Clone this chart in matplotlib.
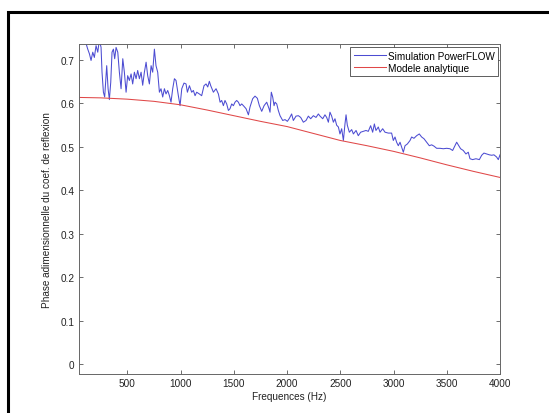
import matplotlib
matplotlib.use("Agg")
import matplotlib.pyplot as plt
from matplotlib.patches import Rectangle

plt.rcParams['font.family'] = ['Liberation Sans', 'DejaVu Sans']

# Simulation PowerFLOW (blue)
sim_freq = [50, 70, 90, 112, 128, 144, 159, 175, 190, 206, 222, 237, 253, 262, 275, 287, 294, 306, 319, 331,
            344, 356, 369, 381, 394, 410, 425, 441, 457, 472, 488, 503, 519, 535, 550, 566, 582, 597, 613, 629,
            644, 660, 676, 691, 707, 723, 738, 754, 769, 785, 801, 816, 832, 848, 863, 879, 895, 910, 926, 942,
            957, 979, 995, 1011, 1032, 1051, 1064, 1083, 1104, 1120, 1136, 1151, 1176, 1198, 1220, 1239, 1255,
            1270, 1283, 1308, 1333, 1355, 1371, 1386, 1402, 1417, 1433, 1449, 1464, 1480, 1496, 1511, 1527,
            1543, 1558, 1574, 1590, 1615, 1637, 1652, 1677, 1699, 1721, 1740, 1762, 1784, 1809, 1831, 1840,
            1852, 1865, 1878, 1887, 1903, 1918, 1934, 1959, 1981, 2003, 2022, 2043, 2059, 2084, 2106, 2128,
            2153, 2178, 2200, 2222, 2247, 2272, 2294, 2310, 2335, 2356, 2372, 2388, 2403, 2419, 2435, 2450,
            2466, 2482, 2497, 2513, 2529, 2544, 2554, 2566, 2585, 2607, 2623, 2648, 2669, 2691, 2716, 2741,
            2763, 2785, 2804, 2820, 2835, 2857, 2873, 2898, 2920, 2951, 2982, 2998, 3014, 3029, 3045, 3061,
            3076, 3092, 3108, 3130, 3155, 3170, 3192, 3217, 3242, 3264, 3286, 3311, 3336, 3358, 3380, 3405,
            3436, 3468, 3499, 3530, 3555, 3577, 3593, 3608, 3630, 3655, 3680, 3702, 3718, 3743, 3774, 3806,
            3828, 3849, 3875, 3900, 3922, 3943, 3968, 3984, 4000]
sim_val = [0.750, 0.742, 0.745, 0.737, 0.724, 0.713, 0.698, 0.717, 0.705, 0.732, 0.717, 0.745, 0.728, 0.671,
           0.625, 0.614, 0.640, 0.686, 0.633, 0.608, 0.648, 0.717, 0.724, 0.702, 0.728, 0.717, 0.671, 0.633,
           0.702, 0.671, 0.625, 0.663, 0.652, 0.667, 0.644, 0.671, 0.656, 0.675, 0.656, 0.671, 0.641, 0.671,
           0.694, 0.663, 0.644, 0.686, 0.671, 0.724, 0.686, 0.671, 0.625, 0.633, 0.614, 0.633, 0.621, 0.629,
           0.617, 0.602, 0.633, 0.656, 0.652, 0.617, 0.594, 0.633, 0.646, 0.644, 0.625, 0.640, 0.625, 0.629,
           0.617, 0.625, 0.621, 0.617, 0.640, 0.644, 0.637, 0.650, 0.640, 0.625, 0.633, 0.621, 0.602, 0.606,
           0.594, 0.606, 0.598, 0.583, 0.587, 0.598, 0.594, 0.602, 0.606, 0.602, 0.594, 0.598, 0.594, 0.587,
           0.573, 0.591, 0.610, 0.616, 0.611, 0.594, 0.581, 0.594, 0.602, 0.587, 0.579, 0.625, 0.614, 0.594,
           0.602, 0.598, 0.583, 0.571, 0.560, 0.562, 0.558, 0.565, 0.575, 0.560, 0.570, 0.571, 0.567, 0.556,
           0.560, 0.570, 0.564, 0.571, 0.567, 0.575, 0.570, 0.564, 0.573, 0.567, 0.556, 0.579, 0.570, 0.556,
           0.564, 0.549, 0.545, 0.529, 0.541, 0.514, 0.552, 0.573, 0.549, 0.533, 0.539, 0.529, 0.537, 0.525,
           0.533, 0.535, 0.537, 0.535, 0.548, 0.533, 0.552, 0.537, 0.545, 0.533, 0.541, 0.533, 0.531, 0.531,
           0.514, 0.522, 0.510, 0.502, 0.510, 0.499, 0.487, 0.502, 0.506, 0.514, 0.522, 0.519, 0.525, 0.529,
           0.522, 0.518, 0.510, 0.502, 0.504, 0.501, 0.496, 0.496, 0.495, 0.496, 0.495, 0.491, 0.502, 0.510,
           0.504, 0.495, 0.491, 0.483, 0.487, 0.472, 0.470, 0.472, 0.470, 0.480, 0.485, 0.483, 0.481, 0.480,
           0.481, 0.476, 0.470, 0.481]

# Modele analytique (red)
mod_freq = [43, 250, 500, 750, 1000, 1250, 1500, 1750, 2000, 2250, 2500, 2750, 3000, 3250, 3500, 3750, 4000]
mod_val = [0.613, 0.612, 0.609, 0.604, 0.596, 0.584, 0.571, 0.558, 0.546, 0.530, 0.514, 0.502, 0.489,
           0.474, 0.458, 0.443, 0.429]

x_ticks = [500, 1000, 1500, 2000, 2500, 3000, 3500, 4000]
y_ticks = [0, 0.1, 0.2, 0.3, 0.4, 0.5, 0.6, 0.7]
y_tick_labels = ['0', '0.1', '0.2', '0.3', '0.4', '0.5', '0.6', '0.7']

W, H = 549, 414
fig = plt.figure(figsize=(W / 100, H / 100), dpi=100)
fig.patch.set_facecolor('white')

ax = fig.add_axes([78.7 / W, 1 - 375 / H, (500 - 78.7) / W, (375 - 44.5) / H])
ax.plot(sim_freq, sim_val, color='#4c4cd2', lw=0.75, label='Simulation PowerFLOW')
ax.plot(mod_freq, mod_val, color='#e04848', lw=0.75, label='Modele analytique')

ax.set_xlim(43, 4000)
ax.set_ylim(-0.023, 0.737)
ax.set_xticks(x_ticks)
ax.set_xticklabels([str(t) for t in x_ticks])
ax.set_yticks(y_ticks)
ax.set_yticklabels(y_tick_labels)
ax.tick_params(direction='in', length=3, width=0.6, colors='#555555', labelcolor='#222222',
               labelsize=7.2, top=True, right=True, pad=3)
for s in ax.spines.values():
    s.set_color('#666666')
    s.set_linewidth(0.7)

ax.set_xlabel('Frequences (Hz)', fontsize=7.2, color='#222222', labelpad=2)
ax.set_ylabel('Phase adimensionnelle du coef. de reflexion', fontsize=7.2, color='#222222')
ax.yaxis.set_label_coords(-0.063, 0.5)

leg = ax.legend(loc='upper right', bbox_to_anchor=(498 / W, 1 - 48 / H), bbox_transform=fig.transFigure,
                borderaxespad=0, fontsize=7.2, fancybox=False, framealpha=1, edgecolor='#444444',
                handlelength=3.2, handletextpad=0.2, labelspacing=0.2, borderpad=0.35)
leg.get_frame().set_linewidth(0.6)

# outer black frame (partially visible)
fig.add_artist(Rectangle((7.5 / W, -0.2), 1.5, 1 - 12.5 / H + 0.2, transform=fig.transFigure,
                         fill=False, edgecolor='black', lw=2.2, clip_on=False))

fig.savefig('out.png', dpi=100, facecolor='white')
